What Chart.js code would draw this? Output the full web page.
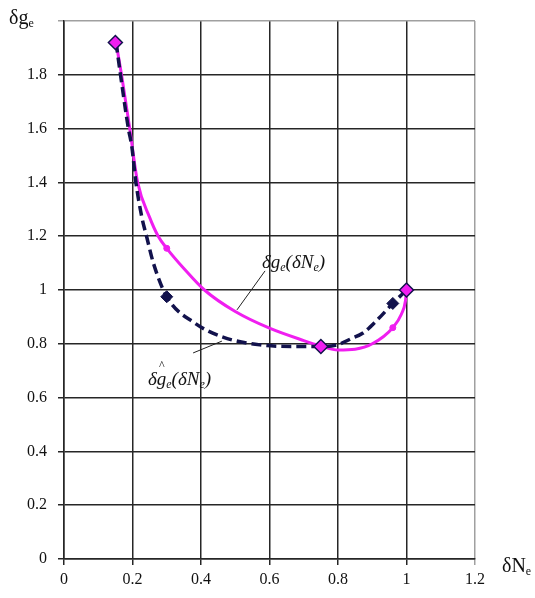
<!DOCTYPE html>
<html>
<head>
<meta charset="utf-8">
<script src="https://cdn.jsdelivr.net/npm/chart.js@4.4.0/dist/chart.umd.min.js"></script>
<style>
  html, body { margin: 0; padding: 0; background: #fff; }
</style>
</head>
<body>
<canvas id="grafica" width="535" height="598"></canvas>
<script>
// curva δge(δNe) (línea continua magenta)
const curvaX = [0.152, 0.168, 0.192, 0.215, 0.25, 0.275, 0.30, 0.35, 0.41, 0.5, 0.6, 0.7, 0.75, 0.8, 0.85, 0.9, 0.96, 0.985, 0.997, 1.0];
const curvaY = [1.92, 1.80, 1.60, 1.40, 1.27, 1.20, 1.155, 1.08, 1.00, 0.92, 0.858, 0.812, 0.792, 0.777, 0.78, 0.80, 0.86, 0.91, 0.96, 1.0];

// curva estimada (línea discontinua azul oscuro)
const estimX = [0.152, 0.165, 0.188, 0.198, 0.21, 0.227, 0.241, 0.261, 0.30, 0.382, 0.464, 0.572, 0.67, 0.75, 0.797, 0.84, 0.873, 0.914, 0.96, 1.0];
const estimY = [1.92, 1.80, 1.60, 1.533, 1.40, 1.272, 1.20, 1.10, 0.975, 0.877, 0.825, 0.796, 0.79, 0.79, 0.796, 0.82, 0.84, 0.888, 0.95, 1.0];

// marcadores
const rombosX = [0.15, 0.75, 1.0];
const rombosY = [1.92, 0.79, 1.0];
const marcasEstimX = [0.30, 0.96];
const marcasEstimY = [0.975, 0.95];
const marcasCurvaX = [0.30, 0.96];
const marcasCurvaY = [1.155, 0.86];

// etiquetas de los ejes
const etiquetasX = ['0', '0.2', '0.4', '0.6', '0.8', '1', '1.2'];
const etiquetasY = ['0', '0.2', '0.4', '0.6', '0.8', '1', '1.2', '1.4', '1.6', '1.8', ''];

const MAGENTA = '#f01ef0';
const AZUL = '#12124c';
const FUENTE = '"Liberation Serif", "Times New Roman", serif';

function puntos(xs, ys) {
    return xs.map(function (v, i) { return { x: v, y: ys[i] }; });
}

// escribe texto con subíndices: partes = [[texto, tamaño, desplazamiento]]
function escribir(ctx, partes, x0, y0, estilo) {
    let x = x0;
    partes.forEach(function (p) {
        ctx.font = estilo + p[1] + 'px ' + FUENTE;
        ctx.fillText(p[0], x, y0 + p[2]);
        x += ctx.measureText(p[0]).width;
    });
}

const textos = {
    id: 'textos',
    afterDraw(chart) {
        const ctx = chart.ctx;
        const sx = chart.scales.x, sy = chart.scales.y;
        ctx.save();
        ctx.fillStyle = '#111';
        ctx.textBaseline = 'alphabetic';
        ctx.textAlign = 'left';

        // títulos de los ejes
        escribir(ctx, [['δg', 20, 0], ['e', 12, 3]], 9, 24, '');
        escribir(ctx, [['δN', 20, 0], ['e', 12, 3]], 502, 572, '');

        // líneas de referencia de las anotaciones
        ctx.strokeStyle = '#222';
        ctx.lineWidth = 1;
        ctx.beginPath();
        ctx.moveTo(sx.getPixelForValue(0.587), sy.getPixelForValue(1.071));
        ctx.lineTo(sx.getPixelForValue(0.505), sy.getPixelForValue(0.926));
        ctx.moveTo(sx.getPixelForValue(0.377), sy.getPixelForValue(0.766));
        ctx.lineTo(sx.getPixelForValue(0.461), sy.getPixelForValue(0.81));
        ctx.stroke();

        const etiqueta = [['δg', 19, 0], ['e', 12, 3], ['(δN', 19, 0], ['e', 12, 3], [')', 19, 0]];
        escribir(ctx, etiqueta, sx.getPixelForValue(0.578), sy.getPixelForValue(1.082), 'italic ');

        const x2 = sx.getPixelForValue(0.245), y2 = sy.getPixelForValue(0.647);
        escribir(ctx, etiqueta, x2, y2, 'italic ');
        ctx.font = '12px ' + FUENTE;
        ctx.fillText('^', x2 + 11, y2 - 16);
        ctx.restore();
    }
};

new Chart(document.getElementById('grafica').getContext('2d'), {
    type: 'scatter',
    data: {
        datasets: [
            {
                label: 'rombos',
                data: puntos(rombosX, rombosY),
                showLine: false,
                pointStyle: 'rectRot',
                pointRadius: 7,
                pointBackgroundColor: MAGENTA,
                pointBorderColor: AZUL,
                pointBorderWidth: 1.5,
                order: 0
            },
            {
                label: 'marcas estimadas',
                data: puntos(marcasEstimX, marcasEstimY),
                showLine: false,
                pointStyle: 'rectRot',
                pointRadius: 6,
                pointBackgroundColor: AZUL,
                pointBorderColor: AZUL,
                pointBorderWidth: 1,
                order: 1
            },
            {
                label: 'marcas curva',
                data: puntos(marcasCurvaX, marcasCurvaY),
                showLine: false,
                pointStyle: 'circle',
                pointRadius: 3,
                pointBackgroundColor: MAGENTA,
                pointBorderColor: MAGENTA,
                order: 2
            },
            {
                label: 'estimada',
                data: puntos(estimX, estimY),
                showLine: true,
                borderColor: AZUL,
                borderWidth: 3.5,
                borderDash: [10, 5],
                cubicInterpolationMode: 'monotone',
                pointRadius: 0,
                order: 3
            },
            {
                label: 'curva',
                data: puntos(curvaX, curvaY),
                showLine: true,
                borderColor: MAGENTA,
                borderWidth: 3,
                cubicInterpolationMode: 'monotone',
                pointRadius: 0,
                order: 4
            }
        ]
    },
    options: {
        responsive: false,
        animation: false,
        devicePixelRatio: 1,
        layout: { padding: { left: 0, top: 21, right: 60, bottom: 0 } },
        plugins: {
            legend: { display: false },
            tooltip: { enabled: false }
        },
        scales: {
            x: {
                type: 'linear',
                min: 0,
                max: 1.2,
                afterFit: function (s) { s.height = 39; },
                afterBuildTicks: function (s) {
                    s.ticks = etiquetasX.map(function (t, i) { return { value: i * 0.2 }; });
                },
                ticks: {
                    color: '#111',
                    padding: 5,
                    maxRotation: 0,
                    font: { family: FUENTE, size: 16 },
                    callback: function (v, i) { return etiquetasX[i]; }
                },
                grid: {
                    color: function (c) { return c.index === etiquetasX.length - 1 ? '#a0a0a0' : '#262626'; },
                    lineWidth: 1.5,
                    tickLength: 6
                },
                border: { color: '#262626', width: 1.5 }
            },
            y: {
                type: 'linear',
                min: 0,
                max: 2,
                afterFit: function (s) { s.width = 64; },
                afterBuildTicks: function (s) {
                    s.ticks = etiquetasY.map(function (t, i) { return { value: i * 0.2 }; });
                },
                ticks: {
                    color: '#111',
                    padding: 11,
                    font: { family: FUENTE, size: 16 },
                    callback: function (v, i) { return etiquetasY[i]; }
                },
                grid: {
                    color: function (c) { return c.index === etiquetasY.length - 1 ? '#a0a0a0' : '#262626'; },
                    lineWidth: 1.5,
                    tickLength: 6
                },
                border: { color: '#262626', width: 1.5 }
            }
        }
    },
    plugins: [textos]
});
</script>
</body>
</html>
